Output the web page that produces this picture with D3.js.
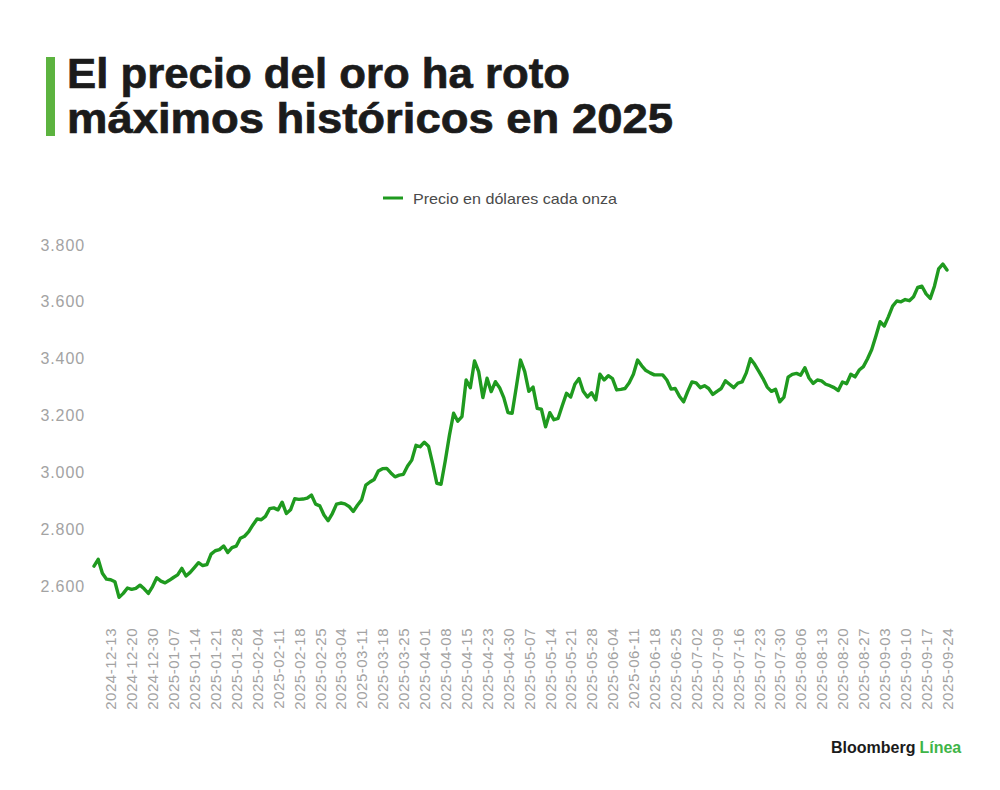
<!DOCTYPE html>
<html>
<head>
<meta charset="utf-8">
<script src="https://cdn.jsdelivr.net/npm/d3@7"></script>
<style>
  html, body { margin: 0; padding: 0; background: #ffffff; }
  svg { display: block; }
</style>
</head>
<body>
<svg id="chart" width="1000" height="790"></svg>
<script>
// ---- Data ----
const titleLines = ["El precio del oro ha roto", "máximos históricos en 2025"];
const seriesName = "Precio en dólares cada onza";

const dates = [
  "2024-12-09","2024-12-10","2024-12-11","2024-12-12","2024-12-13","2024-12-16","2024-12-17","2024-12-18","2024-12-19","2024-12-20",
  "2024-12-23","2024-12-24","2024-12-26","2024-12-27","2024-12-30","2024-12-31",
  "2025-01-02","2025-01-03","2025-01-06","2025-01-07","2025-01-08","2025-01-09","2025-01-10","2025-01-13","2025-01-14","2025-01-15",
  "2025-01-16","2025-01-17","2025-01-20","2025-01-21","2025-01-22","2025-01-23","2025-01-24","2025-01-27","2025-01-28","2025-01-29",
  "2025-01-30","2025-01-31",
  "2025-02-03","2025-02-04","2025-02-05","2025-02-06","2025-02-07","2025-02-10","2025-02-11","2025-02-12","2025-02-13","2025-02-14",
  "2025-02-17","2025-02-18","2025-02-19","2025-02-20","2025-02-21","2025-02-24","2025-02-25","2025-02-26","2025-02-27","2025-02-28",
  "2025-03-03","2025-03-04","2025-03-05","2025-03-06","2025-03-07","2025-03-10","2025-03-11","2025-03-12","2025-03-13","2025-03-14",
  "2025-03-17","2025-03-18","2025-03-19","2025-03-20","2025-03-21","2025-03-24","2025-03-25","2025-03-26","2025-03-27","2025-03-28",
  "2025-03-31",
  "2025-04-01","2025-04-02","2025-04-03","2025-04-04","2025-04-07","2025-04-08","2025-04-09","2025-04-10","2025-04-11","2025-04-14",
  "2025-04-15","2025-04-16","2025-04-17","2025-04-21","2025-04-22","2025-04-23","2025-04-24","2025-04-25","2025-04-28","2025-04-29",
  "2025-04-30",
  "2025-05-01","2025-05-02","2025-05-05","2025-05-06","2025-05-07","2025-05-08","2025-05-09","2025-05-12","2025-05-13","2025-05-14",
  "2025-05-15","2025-05-16","2025-05-19","2025-05-20","2025-05-21","2025-05-22","2025-05-23","2025-05-26","2025-05-27","2025-05-28",
  "2025-05-29","2025-05-30",
  "2025-06-02","2025-06-03","2025-06-04","2025-06-05","2025-06-06","2025-06-09","2025-06-10","2025-06-11","2025-06-12","2025-06-13",
  "2025-06-16","2025-06-17","2025-06-18","2025-06-19","2025-06-20","2025-06-23","2025-06-24","2025-06-25","2025-06-26","2025-06-27",
  "2025-06-30",
  "2025-07-01","2025-07-02","2025-07-03","2025-07-04","2025-07-07","2025-07-08","2025-07-09","2025-07-10","2025-07-11","2025-07-14",
  "2025-07-15","2025-07-16","2025-07-17","2025-07-18","2025-07-21","2025-07-22","2025-07-23","2025-07-24","2025-07-25","2025-07-28",
  "2025-07-29","2025-07-30","2025-07-31",
  "2025-08-01","2025-08-04","2025-08-05","2025-08-06","2025-08-07","2025-08-08","2025-08-11","2025-08-12","2025-08-13","2025-08-14",
  "2025-08-15","2025-08-18","2025-08-19","2025-08-20","2025-08-21","2025-08-22","2025-08-25","2025-08-26","2025-08-27","2025-08-28",
  "2025-08-29",
  "2025-09-01","2025-09-02","2025-09-03","2025-09-04","2025-09-05","2025-09-08","2025-09-09","2025-09-10","2025-09-11","2025-09-12",
  "2025-09-15","2025-09-16","2025-09-17","2025-09-18","2025-09-19","2025-09-22","2025-09-23","2025-09-24"
];

const prices = [
  2670,2694,2645,2624,2622,2615,2560,2574,2593,2588,
  2592,2603,2590,2574,2598,2629,2617,2611,2620,2630,
  2639,2662,2635,2648,2665,2682,2672,2675,2712,2724,
  2728,2741,2718,2735,2740,2768,2775,2791,2815,2836,
  2833,2845,2872,2875,2868,2895,2855,2868,2907,2905,
  2906,2909,2920,2888,2882,2850,2830,2855,2888,2892,
  2889,2880,2862,2884,2903,2955,2966,2975,3005,3013,
  3014,2998,2984,2990,2993,3022,3043,3095,3090,3106,
  3092,3030,2961,2958,3040,3130,3208,3180,3196,3325,
  3298,3392,3354,3263,3331,3284,3319,3298,3263,3210,
  3208,3300,3395,3355,3285,3300,3225,3222,3160,3210,
  3185,3190,3235,3278,3265,3310,3330,3285,3265,3280,
  3255,3345,3325,3340,3330,3290,3292,3295,3315,3345,
  3395,3375,3358,3350,3343,3343,3343,3325,3293,3295,
  3268,3248,3285,3318,3315,3298,3305,3295,3274,3285,
  3295,3322,3310,3298,3314,3318,3350,3400,3380,3355,
  3330,3300,3285,3292,3248,3265,3335,3345,3348,3342,
  3368,3332,3313,3325,3322,3310,3305,3298,3288,3318,
  3312,3345,3336,3360,3372,3400,3432,3480,3530,3515,
  3548,3585,3603,3600,3608,3604,3618,3651,3655,3628,
  3612,3655,3716,3733,3712
];

const tickLabels = [
  "2024-12-13","2024-12-20","2024-12-30","2025-01-07","2025-01-14","2025-01-21","2025-01-28","2025-02-04",
  "2025-02-11","2025-02-18","2025-02-25","2025-03-04","2025-03-11","2025-03-18","2025-03-25","2025-04-01",
  "2025-04-08","2025-04-15","2025-04-23","2025-04-30","2025-05-07","2025-05-14","2025-05-21","2025-05-28",
  "2025-06-04","2025-06-11","2025-06-18","2025-06-25","2025-07-02","2025-07-09","2025-07-16","2025-07-23",
  "2025-07-30","2025-08-06","2025-08-13","2025-08-20","2025-08-27","2025-09-03","2025-09-10","2025-09-17",
  "2025-09-24"
];
const yTicks = [2600, 2800, 3000, 3200, 3400, 3600, 3800];

// ---- Drawing ----
const svg = d3.select("#chart");
const data = dates.map((d, i) => ({ date: d, value: prices[i] }));

const x = d3.scalePoint().domain(dates).range([94, 947]);
const y = d3.scaleLinear().domain([2600, 3800]).range([586, 245]);

const lineGreen = "#1f9a1f";
const fmt = d3.formatLocale({ decimal: ",", thousands: ".", grouping: [3], currency: ["", ""] }).format(",");

// Title bar
svg.append("rect").attr("x", 46).attr("y", 57).attr("width", 9).attr("height", 79).attr("fill", "#5cb33f");

// Title
const titleG = svg.append("g")
  .attr("font-family", "'Liberation Sans', Arial, sans-serif")
  .attr("font-weight", "bold")
  .attr("fill", "#1b1b1b")
  .attr("stroke", "#1b1b1b").attr("stroke-width", 0.7)
  .attr("font-size", 42);
titleG.append("text").attr("x", 67).attr("y", 88).text(titleLines[0])
  .attr("textLength", 503).attr("lengthAdjust", "spacingAndGlyphs");
titleG.append("text").attr("x", 67).attr("y", 133).text(titleLines[1])
  .attr("textLength", 606).attr("lengthAdjust", "spacingAndGlyphs");

// Legend
svg.append("line").attr("x1", 383).attr("x2", 403).attr("y1", 198).attr("y2", 198)
  .attr("stroke", lineGreen).attr("stroke-width", 3);
svg.append("text").attr("x", 413).attr("y", 203.5)
  .attr("font-family", "'Liberation Sans', Arial, sans-serif")
  .attr("font-size", 15).attr("fill", "#4a4a4a")
  .attr("textLength", 204).attr("lengthAdjust", "spacingAndGlyphs")
  .text(seriesName);

// Y axis
const yAxis = d3.axisLeft(y).tickValues(yTicks).tickFormat(fmt).tickSize(0).tickPadding(0);
const yg = svg.append("g").attr("transform", "translate(85,0)").call(yAxis);
yg.select(".domain").remove();
yg.selectAll("text")
  .attr("font-family", "'Liberation Sans', Arial, sans-serif")
  .attr("font-size", 16).attr("fill", "#a3a3a3")
  .attr("letter-spacing", "0.9px");

// X axis
const xAxis = d3.axisBottom(x).tickValues(tickLabels).tickSize(0).tickPadding(0);
const xg = svg.append("g").attr("transform", "translate(0,628)").call(xAxis);
xg.select(".domain").remove();
xg.selectAll("text")
  .attr("font-family", "'Liberation Sans', Arial, sans-serif")
  .attr("font-size", 15).attr("fill", "#a3a3a3")
  .attr("letter-spacing", "0.5px")
  .attr("text-anchor", "end")
  .attr("transform", "rotate(-90)")
  .attr("x", 0).attr("y", 0).attr("dy", "0.35em");

// Line
const line = d3.line().x(d => x(d.date)).y(d => y(d.value)).curve(d3.curveLinear);
svg.append("path").datum(data)
  .attr("fill", "none").attr("stroke", lineGreen).attr("stroke-width", 3.4)
  .attr("stroke-linejoin", "round").attr("stroke-linecap", "round")
  .attr("d", line);

// Brand
const brand = svg.append("text").attr("x", 831).attr("y", 753)
  .attr("font-family", "'Liberation Sans', Arial, sans-serif")
  .attr("font-weight", "bold").attr("font-size", 16);
brand.append("tspan").attr("fill", "#1b1b1b").text("Bloomberg");
brand.append("tspan").attr("fill", "#3fb548").attr("dx", 4).text("Línea");
</script>
</body>
</html>
